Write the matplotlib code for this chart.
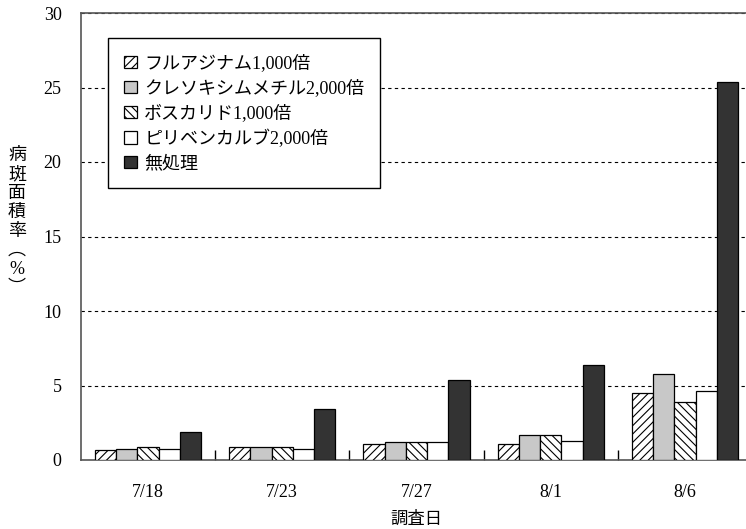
import numpy as np
import matplotlib
matplotlib.use('Agg')
import matplotlib.pyplot as plt

plt.rcParams['font.family'] = ['Liberation Serif', 'Noto Sans CJK JP']
plt.rcParams['hatch.linewidth'] = 0.8

# 調査日ごとの病斑面積率（%）
fechas = ['7/18', '7/23', '7/27', '8/1', '8/6']
series = ['フルアジナム1,000倍', 'クレソキシムメチル2,000倍', 'ボスカリド1,000倍',
          'ピリベンカルブ2,000倍', '無処理']
fluazinam = [0.7, 0.85, 1.1, 1.05, 4.5]
kresoxim = [0.75, 0.85, 1.2, 1.65, 5.8]
boscalid = [0.9, 0.85, 1.2, 1.65, 3.9]
pyribencarb = [0.75, 0.75, 1.2, 1.3, 4.6]
untreated = [1.85, 3.4, 5.4, 6.4, 25.4]
valores = [fluazinam, kresoxim, boscalid, pyribencarb, untreated]

colores = ['white', '#c8c8c8', 'white', 'white', '#333333']
tramas = ['////', None, '\\\\\\\\', None, None]

fig = plt.figure(figsize=(7.46, 5.29), dpi=100)
ax = fig.add_axes([81 / 746, 69 / 529, 671 / 746, 447 / 529])

x = np.arange(len(fechas))
ancho = 0.158
for i, (nombre, v) in enumerate(zip(series, valores)):
    pos = x + (i - 2) * ancho
    ax.bar(pos, v, ancho, color=colores[i], hatch=tramas[i], edgecolor='black',
           linewidth=0.9, label=nombre, zorder=3)

ax.set_xlim(-0.5, len(fechas) - 0.5)
ax.set_ylim(0, 30)
ax.set_yticks(np.arange(0, 31, 5))
ax.yaxis.grid(True, linestyle=(0, (3, 3)), color='black', linewidth=0.8, zorder=0)

# etiquetas en el centro, marcas entre fechas
ax.set_xticks(x)
ax.set_xticklabels(fechas, fontsize=13)
ax.set_xticks(np.arange(0.5, len(fechas) - 0.5, 1), minor=True)
ax.tick_params(axis='x', which='major', length=0, pad=17)
ax.tick_params(axis='x', which='minor', direction='in', length=7, width=1, color='black')
ax.tick_params(axis='y', length=0, pad=14, labelsize=13)

for lado in ['left', 'bottom', 'top', 'right']:
    ax.spines[lado].set_color('#555555')
    ax.spines[lado].set_linewidth(1.2)

ax.set_xlabel('調査日', fontsize=12.5, labelpad=8)
fig.text(17 / 746, 1 - 222 / 529, '\n'.join('病斑面積率︵%︶'), ha='center', va='center',
         fontsize=13, linespacing=1.15)

leg = ax.legend(loc='upper left', bbox_to_anchor=(27 / 671, 1 - 25 / 447), fontsize=13,
                frameon=True, fancybox=False, edgecolor='black', framealpha=1,
                handlelength=0.7, handleheight=0.7, handletextpad=0.4,
                labelspacing=0.4, borderpad=0.9, borderaxespad=0)
leg.get_frame().set_linewidth(1.0)

fig.savefig('out.png', dpi=100)
